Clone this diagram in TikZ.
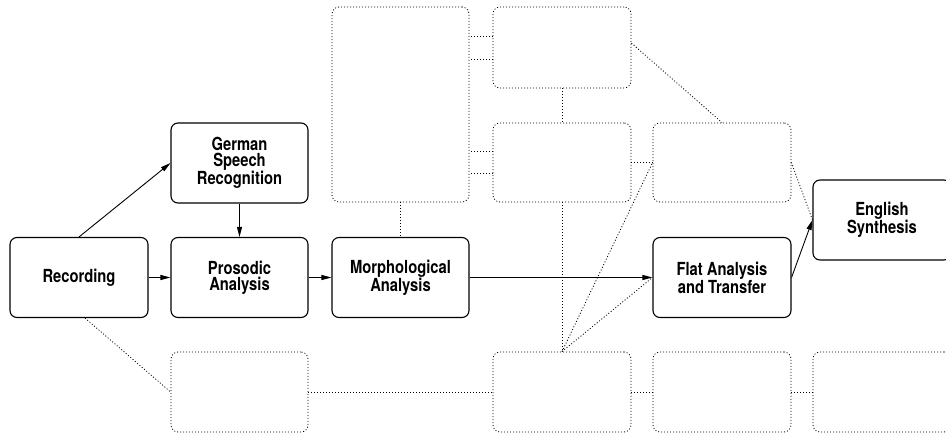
\documentclass[tikz,border=0pt]{standalone}
\usepackage{fontspec}
\setmainfont{TeX Gyre Heros}[FakeStretch=0.82]
\usetikzlibrary{arrows.meta}
\begin{document}
\begin{tikzpicture}[x=1pt,y=-1pt,
  stage/.style={draw,line width=1.1pt,rounded corners=7pt,rectangle,
    minimum width=138pt,minimum height=80pt,inner sep=0pt,align=center,
    font=\fontsize{18}{16}\selectfont\bfseries},
  ghost/.style={draw=black,line width=0.8pt,dash pattern=on 1pt off 2pt,
    rounded corners=7pt,rectangle,minimum width=138pt,minimum height=80pt,inner sep=0pt},
  flow/.style={draw,line width=0.9pt,-{Triangle[length=10pt,width=5pt]}},
  link/.style={draw=black,line width=0.8pt,dash pattern=on 1pt off 2pt}]
\useasboundingbox (0,0) rectangle (946,434);

% processing stages
\node[stage] (rec)   at (79,277.5)  {Recording};
\node[stage,minimum width=137pt] (gsr)   at (239.5,163)  {German\\Speech\\Recognition};
\node[stage,minimum width=137pt] (pros)  at (239.5,277.5){Prosodic\\Analysis};
\node[stage,minimum width=137pt] (morph) at (400.5,277.5){Morphological\\Analysis};
\node[stage] (flat)  at (722,277.5)  {Flat Analysis\\and Transfer};
\node[stage] (eng)   at (882,220)    {English\\Synthesis};

% empty placeholder modules
\node[ghost,minimum width=137pt,minimum height=195pt] (big) at (400.5,104.5) {};
\node[ghost,minimum height=81pt] (top)  at (562,47.5)  {};
\node[ghost,minimum height=79pt] (mid)  at (562,162.5) {};
\node[ghost,minimum height=79pt] (rmid) at (722,162.5) {};
\node[ghost,minimum width=137pt] (pa)   at (239.5,392) {};
\node[ghost] (pb)   at (562,392)   {};
\node[ghost] (pc)   at (722,392)   {};
\node[ghost] (pd)   at (882,392)   {};

% main data flow
\draw[flow] (rec.north) -- (gsr.west);
\draw[flow] (gsr.south) -- (pros.north);
\draw[flow] (rec.east) -- (pros.west);
\draw[flow] (pros.east) -- (morph.west);
\draw[flow] (morph.east) -- (flat.west);
\draw[flow] (flat.east) -- (eng.west);

% dotted links between placeholder modules
\draw[link] ([yshift=11.5pt]top.west) -- ([yshift=11.5pt]top.west -| big.east);
\draw[link] ([yshift=-11.5pt]top.west) -- ([yshift=-11.5pt]top.west -| big.east);
\draw[link] ([yshift=11pt]mid.west) -- ([yshift=11pt]mid.west -| big.east);
\draw[link] ([yshift=-11pt]mid.west) -- ([yshift=-11pt]mid.west -| big.east);
\draw[link] (top.south) -- (mid.north);
\draw[link] ([yshift=4.5pt]top.east) -- (rmid.north);
\draw[link] (mid.east) -- (rmid.west);
\draw[link] (big.south) -- (morph.north);
\draw[link] (mid.south) -- (pb.north);
\draw[link] (pb.north) -- (rmid.west);
\draw[link] (pb.north) -- (flat.west);
\draw[link] (rmid.east) -- (eng.west);
\draw[link] ([xshift=6pt]rec.south) -- (pa.west);
\draw[link] (pa.east) -- (pb.west);
\draw[link] (pb.east) -- (pc.west);
\draw[link] (pc.east) -- (pd.west);
\end{tikzpicture}
\end{document}
